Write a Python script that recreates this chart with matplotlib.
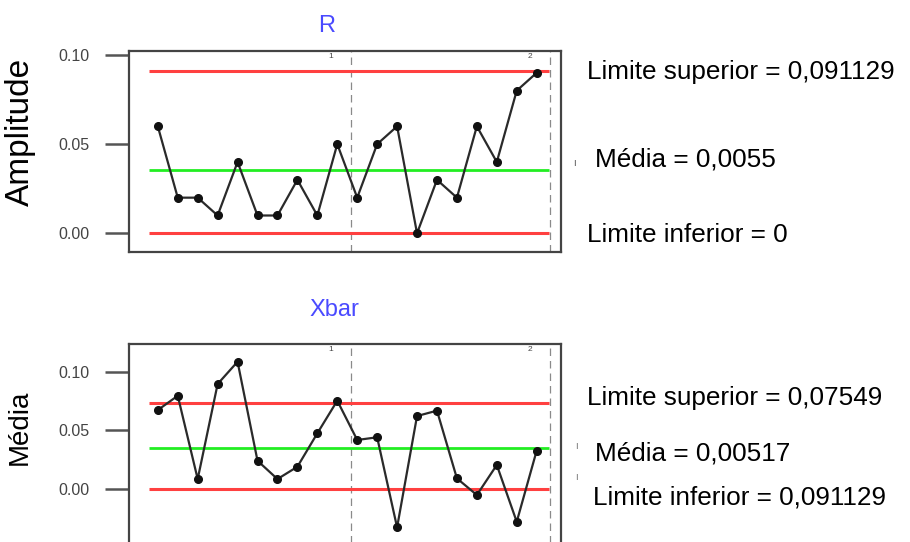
#carta de controle R e Xbar
import matplotlib
matplotlib.use('Agg')
import matplotlib.pyplot as plt
import numpy as np

plt.rcParams['font.family'] = ['Liberation Sans', 'DejaVu Sans']

W, H = 910, 542  #tamanho em pixels

amostras = np.arange(1, 21)
r_vals = [0.06, 0.02, 0.02, 0.01, 0.04, 0.01, 0.01, 0.03, 0.01, 0.05,
          0.02, 0.05, 0.06, 0.00, 0.03, 0.02, 0.06, 0.04, 0.08, 0.09]
xbar_vals = [0.0673, 0.0795, 0.0085, 0.0895, 0.1085, 0.0241, 0.0085, 0.019, 0.0475, 0.0753,
             0.0418, 0.0441, -0.0327, 0.0622, 0.0668, 0.0091, -0.0051, 0.0205, -0.0279, 0.0327]

# limites (linhas)
r_lim = [0.0911, 0.0355, 0.0]      # superior, media, inferior
x_lim = [0.0731, 0.0352, 0.0]

# textos do lado direito
r_textos = ['Limite superior = 0,091129', 'Média = 0,0055', 'Limite inferior = 0']
x_textos = ['Limite superior = 0,07549', 'Média = 0,00517', 'Limite inferior = 0,091129']

yticks = [0.0, 0.05, 0.10]
yticklabels = ['0.00', '0.05', '0.10']
grupos = [10.67, 20.66]   # separacao dos grupos (linhas tracejadas)


def px(x, y):
    return x / W, 1 - y / H


def carta(ax, vals, lims, ylim):
    ax.set_xlim(-0.47, 21.22)
    ax.set_ylim(*ylim)
    ax.hlines([lims[0], lims[2]], 0.58, 20.62, color='#ff4040', lw=2.2, zorder=2)
    ax.hlines(lims[1], 0.58, 20.62, color='#22ee22', lw=2.0, zorder=2)
    for g in grupos:
        ax.axvline(g, color='#8a8a8a', lw=0.9, dashes=(6, 4), zorder=1)
    ax.text(grupos[0] - 1, 0.99, '1', transform=ax.get_xaxis_transform(),
            fontsize=6, color='#444444', ha='center', va='top')
    ax.text(grupos[1] - 1, 0.99, '2', transform=ax.get_xaxis_transform(),
            fontsize=6, color='#444444', ha='center', va='top')
    ax.plot(amostras, vals, color='#2a2a2a', lw=1.6, marker='o', ms=5.5,
            mfc='#111111', mec='#111111', zorder=3)
    ax.set_yticks(yticks)
    ax.set_yticklabels(yticklabels)
    ax.set_xticks([])
    ax.tick_params(axis='y', length=17, width=1.8, color='#555555', pad=11,
                   labelsize=11.5, labelcolor='#444444')
    for s in ax.spines.values():
        s.set_color('#444444')
        s.set_linewidth(1.6)


fig = plt.figure(figsize=(W / 100, H / 100), dpi=100)

ax1 = fig.add_axes([128.5 / W, 1 - 251.7 / H, (561 - 128.5) / W, (251.7 - 50.7) / H])
carta(ax1, r_vals, r_lim, (-0.0103, 0.1024))

ax2 = fig.add_axes([128.5 / W, 1 - 545 / H, (561 - 128.5) / W, (545 - 344) / H])
carta(ax2, xbar_vals, x_lim, (-0.0477, 0.1236))

fig.text(*px(327, 26), 'R', color='#4a4aff', fontsize=17, ha='center', va='center')
fig.text(*px(334.5, 310), 'Xbar', color='#4a4aff', fontsize=17, ha='center', va='center')

fig.text(*px(20, 132), 'Amplitude', rotation=90, fontsize=24, ha='center', va='center')
fig.text(*px(20, 427), 'Média', rotation=90, fontsize=20, ha='center', va='center')

# textos dos limites
pos_r = [(587, 72), (595, 160), (587, 235)]
pos_x = [(587, 398), (595, 453), (593, 497)]
for (x, y), t in zip(pos_r, r_textos):
    fig.text(*px(x, y), t, fontsize=18.8, ha='left', va='center')
for (x, y), t in zip(pos_x, x_textos):
    fig.text(*px(x, y), t, fontsize=18.8, ha='left', va='center')

# restos de marcas ao lado
fig.text(*px(574, 163), 'ı', fontsize=7, color='#555555', ha='center', va='center')
fig.text(*px(577, 446), 'ı', fontsize=7, color='#777777', ha='center', va='center')
fig.text(*px(577, 477), 'ı', fontsize=7, color='#777777', ha='center', va='center')

fig.savefig('out.png', dpi=100)
